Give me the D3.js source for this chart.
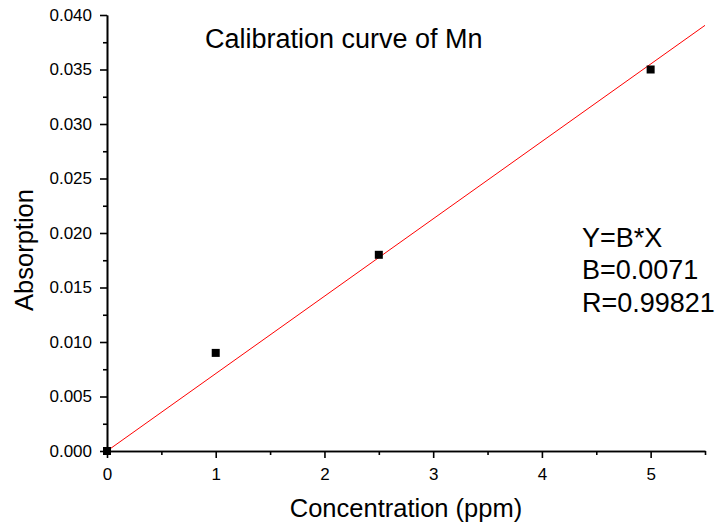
<!DOCTYPE html>
<html>
<head>
<meta charset="utf-8">
<script src="https://cdn.jsdelivr.net/npm/d3@7"></script>
<style>
  body { margin: 0; background: white; }
  svg text { font-family: "Liberation Sans", Arial, sans-serif; fill: black; }
</style>
</head>
<body>
<div class="graph-container"></div>
<script>
// data
var concentration = [0, 1, 2.5, 5];
var absorption = [0, 0.009, 0.018, 0.035];
var slopeB = 0.0071;
var fitText = ["Y=B*X", "B=0.0071", "R=0.99821"];
var xTicks = [0, 1, 2, 3, 4, 5];
var xMinorTicks = [0.5, 1.5, 2.5, 3.5, 4.5, 5.5];
var yTicks = [0, 0.005, 0.010, 0.015, 0.020, 0.025, 0.030, 0.035, 0.040];
var yMinorTicks = [0.0025, 0.0075, 0.0125, 0.0175, 0.0225, 0.0275, 0.0325, 0.0375];

var width = 717, height = 528;
var margin = { top: 15, left: 107, bottom: 77, right: 12 };

var svg = d3.select(".graph-container").append("svg")
    .attr("width", width)
    .attr("height", height);

var x = d3.scaleLinear()
    .domain([0, 5.5])
    .range([margin.left, width - margin.right]);

var y = d3.scaleLinear()
    .domain([0, 0.040])
    .range([height - margin.bottom, margin.top]);

// axes
var xAxis = d3.axisBottom(x).tickValues(xTicks).tickFormat(d3.format("d")).tickSize(7).tickSizeOuter(0);
var xMinor = d3.axisBottom(x).tickValues(xMinorTicks).tickFormat("").tickSize(4).tickSizeOuter(0);
var yAxis = d3.axisLeft(y).tickValues(yTicks).tickFormat(d3.format(".3f")).tickSize(7).tickSizeOuter(0);
var yMinor = d3.axisLeft(y).tickValues(yMinorTicks).tickFormat("").tickSize(4).tickSizeOuter(0);

function styleAxis(g) {
    g.selectAll("path, line").attr("stroke", "black").attr("stroke-width", 1.6);
    g.selectAll("text").style("font-size", "17px");
}

svg.append("g").attr("transform", "translate(0," + y(0) + ")").call(xMinor).call(styleAxis);
var xg = svg.append("g").attr("transform", "translate(0," + y(0) + ")");
xg.call(xAxis).call(styleAxis);
xg.selectAll("text").attr("y", 17).attr("dy", "0.71em");

svg.append("g").attr("transform", "translate(" + x(0) + ",0)").call(yMinor).call(styleAxis);
var yg = svg.append("g").attr("transform", "translate(" + x(0) + ",0)");
yg.call(yAxis).call(styleAxis);
yg.selectAll("text").attr("x", -15);

// fit line
var line = d3.line().x(d => x(d)).y(d => y(slopeB * d));
svg.append("path")
    .datum([0, 5.5])
    .attr("d", line)
    .attr("fill", "none")
    .attr("stroke", "#ff0000")
    .attr("stroke-width", 1);

// points
var pts = concentration.map((c, i) => ({ c: c, a: absorption[i] }));
svg.append("g")
    .selectAll("rect")
    .data(pts)
    .enter()
    .append("rect")
    .attr("x", d => x(d.c) - 4)
    .attr("y", d => y(d.a) - 4)
    .attr("width", 8)
    .attr("height", 8)
    .attr("fill", "black");

// titles
svg.append("text")
    .attr("x", 205)
    .attr("y", 48)
    .style("font-size", "27px")
    .text("Calibration curve of Mn");

svg.append("text")
    .attr("x", 406)
    .attr("y", 517)
    .attr("text-anchor", "middle")
    .style("font-size", "25.5px")
    .text("Concentration (ppm)");

svg.append("text")
    .attr("transform", "translate(33,250) rotate(-90)")
    .attr("text-anchor", "middle")
    .style("font-size", "25.5px")
    .text("Absorption");

svg.append("g")
    .selectAll("text")
    .data(fitText)
    .enter()
    .append("text")
    .attr("x", 582)
    .attr("y", (d, i) => 246.5 + i * 32.5)
    .style("font-size", "27px")
    .text(d => d);
</script>
</body>
</html>
